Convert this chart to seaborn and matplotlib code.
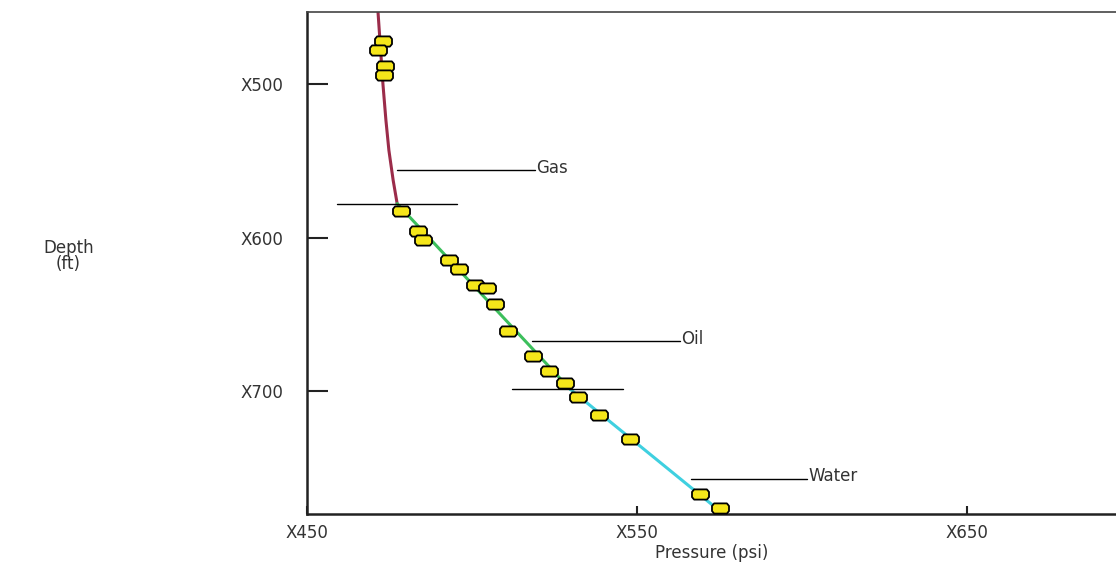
import numpy as np
import pandas as pd
import matplotlib
matplotlib.use("Agg")
import matplotlib.pyplot as plt
from matplotlib.path import Path
import seaborn as sns

# pressure points (psi) and depth (ft)
pressure = [473.0, 471.5, 473.6, 473.3, 478.5, 483.6, 485.2, 493.0, 496.1, 500.9,
            504.5, 507.0, 510.9, 518.5, 523.3, 528.2, 532.1, 538.5, 547.9, 569.1, 575.2]
depth = [471.9, 477.8, 488.2, 494.1, 582.4, 595.4, 601.3, 614.4, 620.3, 630.7,
         632.7, 643.1, 660.8, 677.1, 686.9, 694.8, 703.9, 715.7, 731.4, 766.7, 775.8]

# gradient lines
gas_p = [471.5, 473.0, 473.9, 474.8, 476.1, 477.3]
gas_d = [452.9, 500.0, 523.5, 543.1, 562.7, 577.8]
oil_p = [477.3, 529.7]
oil_d = [577.8, 698.7]
water_p = [529.7, 576.7]
water_d = [698.7, 781.0]

# fluid contacts: depth, pressure span
contacts = [(577.8, 459.1, 495.5), (698.7, 512.1, 545.8)]

# labels: name, depth, line start, line end
fluids = ["Gas", "Oil", "Water"]
label_depth = [556.2, 667.3, 756.9]
label_start = [477.3, 518.2, 566.4]
label_end = [519.1, 563.0, 601.5]

x_ticks = [450, 550, 650]
x_labels = ["X450", "X550", "X650"]
y_ticks = [500, 600, 700]
y_labels = ["X500", "X600", "X700"]

sns.set_style("white")
plt.rcParams["font.family"] = ["DejaVu Sans"]
txt = "#333333"

fig = plt.figure(figsize=(11.16, 5.63), dpi=100)
ax = fig.add_axes([307 / 1116, 1 - 514 / 563, 809 / 1116, 502 / 563])

for p, d, c in [(gas_p, gas_d, "#9b2c4a"), (oil_p, oil_d, "#3cbf5c"), (water_p, water_d, "#3fd0e0")]:
    sns.lineplot(x=p, y=d, ax=ax, color=c, linewidth=2.2, sort=False, estimator=None)

for d, p0, p1 in contacts:
    ax.plot([p0, p1], [d, d], color="black", linewidth=1)

for name, d, p0, p1 in zip(fluids, label_depth, label_start, label_end):
    ax.plot([p0, p1], [d, d], color="black", linewidth=1)
    ax.text(p1 + 0.3, d - 1.5, name, color=txt, fontsize=12, ha="left", va="center")

# wide octagon marker like the original symbols
verts = [(-1, -0.3), (-0.75, -0.6), (0.75, -0.6), (1, -0.3), (1, 0.3),
         (0.75, 0.6), (-0.75, 0.6), (-1, 0.3), (-1, -0.3)]
codes = [Path.MOVETO] + [Path.LINETO] * 7 + [Path.CLOSEPOLY]
marker = Path(verts, codes)

df = pd.DataFrame({"pressure": pressure, "depth": depth})
sns.scatterplot(data=df, x="pressure", y="depth", ax=ax, marker=marker, s=150,
                color="#f5e61a", edgecolor="black", linewidth=1.3, zorder=5)

ax.set_xlim(450, 695)
ax.set_ylim(780, 453)
ax.set_xticks(x_ticks)
ax.set_xticklabels(x_labels)
ax.set_yticks(y_ticks)
ax.set_yticklabels(y_labels)
ax.tick_params(axis="y", left=True, direction="in", length=15, width=1.5, color="#222222",
               pad=17, labelsize=12, labelcolor=txt)
ax.tick_params(axis="x", bottom=True, direction="in", length=6, width=1.5, color="#222222",
               pad=7, labelsize=12, labelcolor=txt)

for side in ["left", "bottom"]:
    ax.spines[side].set_color("#222222")
    ax.spines[side].set_linewidth(1.8)
ax.spines["top"].set_color("#444444")
ax.spines["top"].set_linewidth(1.2)
ax.spines["right"].set_visible(False)

ax.set_xlabel("Pressure (psi)", fontsize=12, color=txt, va="center")
ax.xaxis.set_label_coords(0.5, -0.078)
ax.set_ylabel("Depth\n(ft)", fontsize=12, color=txt, rotation=0, ha="center", va="center",
              linespacing=0.9)
ax.yaxis.set_label_coords(-0.295, 0.514)

fig.savefig("out.png", dpi=100)
